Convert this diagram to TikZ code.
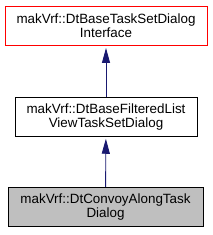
\documentclass[tikz,border=0pt]{standalone}
\usepackage{fontspec}
\setmainfont{Liberation Sans}
\usetikzlibrary{arrows.meta}
\definecolor{navyline}{RGB}{25,25,112}
\definecolor{greyfill}{RGB}{191,191,191}
\definecolor{redline}{RGB}{255,0,0}
\begin{document}
\begin{tikzpicture}[x=1pt,y=-1pt,
 cls/.style={draw=black, line width=1pt, align=center, font=\fontsize{13.4}{14}\selectfont, inner sep=0pt, minimum height=39.5pt},
 inh/.style={draw=navyline, line width=0.9pt, -{Triangle[length=15pt,width=8pt,fill=navyline]}, shorten >=1.5pt}]
\useasboundingbox (0,0) rectangle (213,235);
\node[cls, draw=redline, fill=white, minimum width=202pt] (a) at (106,26.2) {makVrf::DtBaseTaskSetDialog\\Interface};
\node[cls, fill=white, minimum width=182pt] (b) at (106,117) {makVrf::DtBaseFilteredList\\ViewTaskSetDialog};
\node[cls, fill=greyfill, minimum width=195pt] (c) at (105.5,207) {makVrf::DtConvoyAlongTask\\Dialog};
\draw[inh] (b) -- (a);
\draw[inh] (c) -- (b);
\end{tikzpicture}
\end{document}
